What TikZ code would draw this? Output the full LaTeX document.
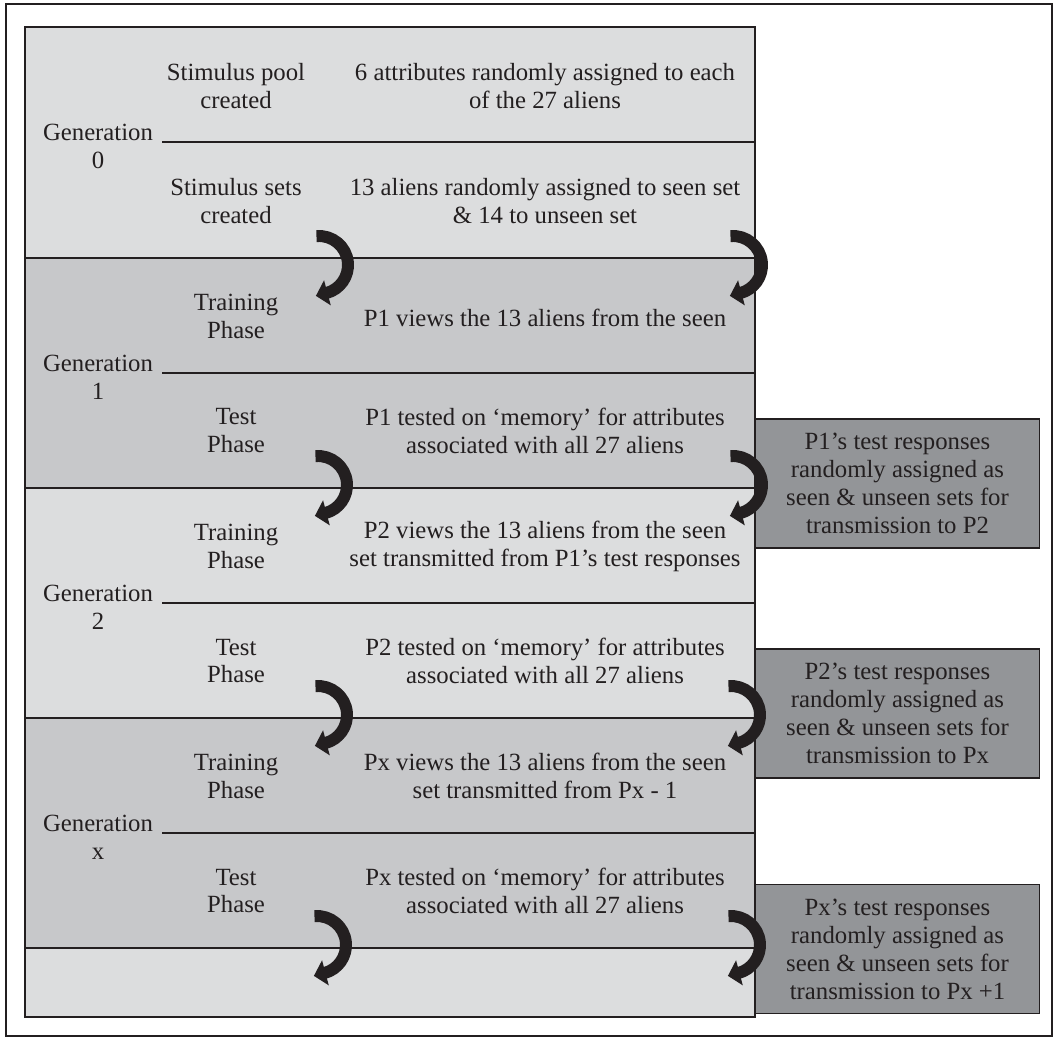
\documentclass[tikz,border=0pt]{standalone}
\usepackage{fontspec}
\setmainfont{Liberation Serif}
\usetikzlibrary{arrows.meta}
\definecolor{bandlight}{HTML}{DCDDDE}
\definecolor{banddark}{HTML}{C7C8CA}
\definecolor{boxgray}{HTML}{939598}
\definecolor{ink}{HTML}{231F20}
\tikzset{
  lbl/.style={align=center, text=ink, font=\fontsize{17.6}{19.9}\selectfont, inner sep=0pt},
  sidebox/.style={lbl, draw=ink, line width=1.2pt, fill=boxgray, minimum width=7.1cm, minimum height=3.225cm},
  curl/.style={draw=ink, line width=8.5pt, line join=round, -{Triangle[width=18pt,length=8.5pt]}}
}
\begin{document}
\begin{tikzpicture}[x=0.025cm, y=0.025cm]
  \useasboundingbox (0,0) rectangle (1058,-1040);
  \draw[ink, line width=1.8pt] (6,-4) rectangle (1052,-1036);

  \fill[bandlight] (25,-27) rectangle (755,-258);
  \fill[banddark] (25,-258) rectangle (755,-488);
  \fill[bandlight] (25,-488) rectangle (755,-718);
  \fill[banddark] (25,-718) rectangle (755,-948);
  \fill[bandlight] (25,-948) rectangle (755,-1017);
  \draw[ink, line width=1.1pt] (25,-27) rectangle (755,-1017);
  \draw[ink, line width=1.1pt] (25,-258) -- (755,-258);
  \draw[ink, line width=1.1pt] (25,-488) -- (755,-488);
  \draw[ink, line width=1.1pt] (25,-718) -- (755,-718);
  \draw[ink, line width=1.1pt] (25,-948) -- (755,-948);
  \draw[ink, line width=1pt] (162,-142) -- (755,-142);
  \draw[ink, line width=1pt] (162,-373) -- (755,-373);
  \draw[ink, line width=1pt] (162,-603) -- (755,-603);
  \draw[ink, line width=1pt] (162,-833) -- (755,-833);

  % generation 0
  \node[lbl] (gen0) at (98,-146) {Generation\\0};
  \node[lbl] (poolLbl) at (236,-86) {Stimulus pool\\created};
  \node[lbl] (poolTxt) at (545,-86) {6 attributes randomly assigned to each\\of the 27 aliens};
  \node[lbl] (setsLbl) at (236,-201) {Stimulus sets\\created};
  \node[lbl] (setsTxt) at (545,-201) {13 aliens randomly assigned to seen set\\\& 14 to unseen set};

  % generation 1
  \node[lbl] (gen1) at (98,-377) {Generation\\1};
  \node[lbl] (trainLbl1) at (236,-316) {Training\\Phase};
  \node[lbl] (trainTxt1) at (545,-318) {P1 views the 13 aliens from the seen};
  \node[lbl] (testLbl1) at (236,-431) {Test\\Phase};
  \node[lbl] (testTxt1) at (545,-431) {P1 tested on ‘memory’ for attributes\\associated with all 27 aliens};

  % generation 2
  \node[lbl] (gen2) at (98,-607) {Generation\\2};
  \node[lbl] (trainLbl2) at (236,-546) {Training\\Phase};
  \node[lbl] (trainTxt2) at (545,-546) {P2 views the 13 aliens from the seen\\set transmitted from P1’s test responses};
  \node[lbl] (testLbl2) at (236,-661) {Test\\Phase};
  \node[lbl] (testTxt2) at (545,-661) {P2 tested on ‘memory’ for attributes\\associated with all 27 aliens};

  % generation x
  \node[lbl] (genx) at (98,-837) {Generation\\x};
  \node[lbl] (trainLblx) at (236,-776) {Training\\Phase};
  \node[lbl] (trainTxtx) at (545,-776) {Px views the 13 aliens from the seen\\set transmitted from Px - 1};
  \node[lbl] (testLblx) at (236,-891) {Test\\Phase};
  \node[lbl] (testTxtx) at (545,-891) {Px tested on ‘memory’ for attributes\\associated with all 27 aliens};

  % side boxes
  \node[sidebox] (resp1) at (897.5,-483.5) {P1’s test responses\\randomly assigned as\\seen \& unseen sets for\\transmission to P2};
  \node[sidebox] (resp2) at (897.5,-713.5) {P2’s test responses\\randomly assigned as\\seen \& unseen sets for\\transmission to Px};
  \node[sidebox] (respx) at (897.5,-949) {Px’s test responses\\randomly assigned as\\seen \& unseen sets for\\transmission to Px +1};

  % curled arrows
  \draw[curl] (319,-265) ++(95:0.725cm) arc (95:-75:0.725cm) -- ++(-165:0.275cm);
  \draw[curl] (733,-265) ++(95:0.725cm) arc (95:-75:0.725cm) -- ++(-165:0.275cm);
  \draw[curl] (318,-485) ++(95:0.725cm) arc (95:-75:0.725cm) -- ++(-165:0.275cm);
  \draw[curl] (733,-485) ++(95:0.725cm) arc (95:-75:0.725cm) -- ++(-165:0.275cm);
  \draw[curl] (318,-715) ++(95:0.725cm) arc (95:-75:0.725cm) -- ++(-165:0.275cm);
  \draw[curl] (731,-715) ++(95:0.725cm) arc (95:-75:0.725cm) -- ++(-165:0.275cm);
  \draw[curl] (317,-945) ++(95:0.725cm) arc (95:-75:0.725cm) -- ++(-165:0.275cm);
  \draw[curl] (731,-945) ++(95:0.725cm) arc (95:-75:0.725cm) -- ++(-165:0.275cm);
\end{tikzpicture}
\end{document}
